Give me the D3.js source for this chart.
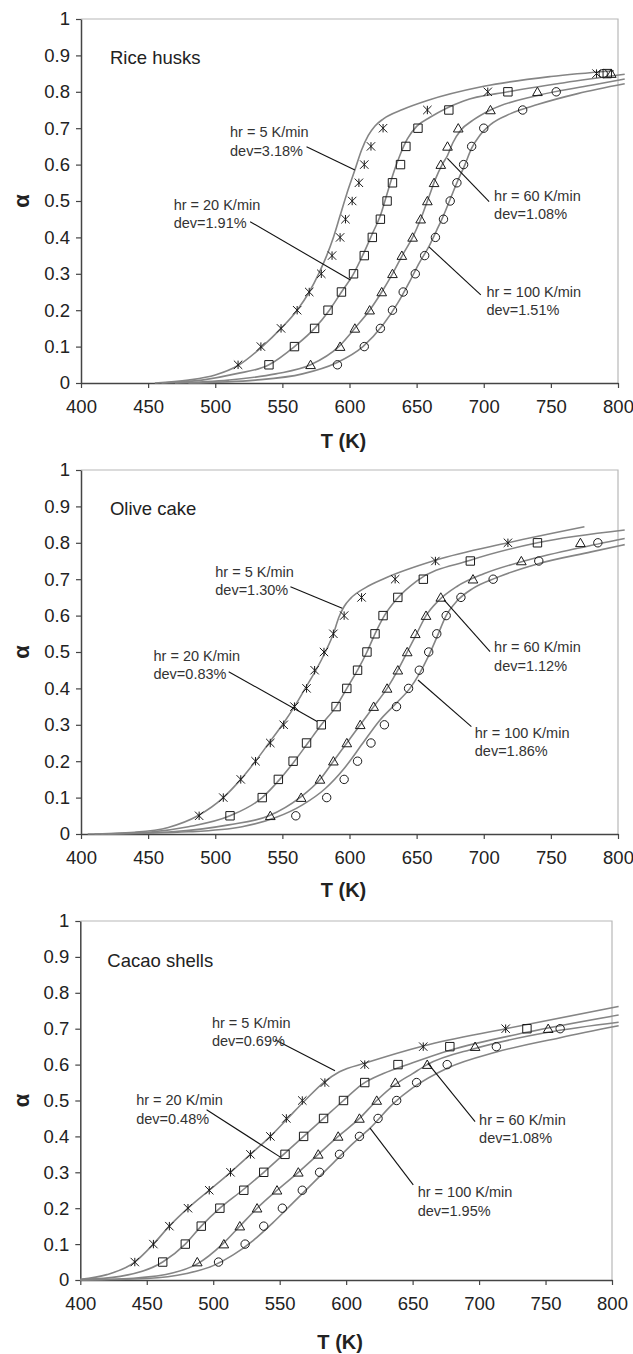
<!DOCTYPE html>
<head>
    <meta charset="utf-8">
    <title>Conversion vs temperature</title>
    <style>
        body { margin: 0; background: #fff; }
        text { font-family: "Liberation Sans", Arial, sans-serif; fill: #222; }
        .tick text { font-size: 18.5px; }
        .note { font-size: 14.5px; fill: #333; }
        .panel_name { font-size: 18.5px; }
        .axis_title { font-size: 20px; font-weight: bold; }
    </style>
    <script type="text/javascript" src="https://cdn.jsdelivr.net/npm/d3@7"></script>
</head>
<body>
    <script>
        // conversion levels at which the experimental points were taken
        var alphaLevels = [0.05, 0.1, 0.15, 0.2, 0.25, 0.3, 0.35, 0.4, 0.45, 0.5, 0.55, 0.6, 0.65, 0.7, 0.75, 0.8, 0.85];
        var xTicks = [400, 450, 500, 550, 600, 650, 700, 750, 800];
        var yTicks = [0, 0.1, 0.2, 0.3, 0.4, 0.5, 0.6, 0.7, 0.8, 0.9, 1];
        var rates = ["5", "20", "60", "100"];
        var shapes = ["star", "square", "triangle", "circle"];

        // Rice husks: experimental T (K) at each alpha level
        var rice5 = [517, 534, 549, 561, 570, 579, 587, 593, 597, 602, 607, 611, 616, 625, 658, 703, 784];
        var rice20 = [540, 559, 574, 584, 594, 603, 611, 617, 623, 628, 632, 638, 642, 651, 674, 718, 792];
        var rice60 = [571, 593, 604, 615, 624, 632, 639, 647, 653, 658, 663, 668, 673, 681, 705, 740, 795];
        var rice100 = [591, 611, 623, 632, 640, 649, 656, 664, 670, 675, 680, 685, 691, 700, 729, 754, 789];
        var riceDev = ["3.18%", "1.91%", "1.08%", "1.51%"];
        // model curves [T, alpha]
        var riceFit5 = [[455, 0], [480, 0.008], [500, 0.022], [517, 0.048], [535, 0.1], [549, 0.15], [561, 0.2], [570, 0.25], [577, 0.3], [583, 0.35], [588, 0.4], [593, 0.46], [598, 0.52], [604, 0.585], [609, 0.64], [614, 0.68], [619, 0.706], [625, 0.725], [640, 0.752], [658, 0.776], [700, 0.815], [750, 0.842], [797, 0.858]];
        var riceFit20 = [[460, 0], [490, 0.008], [515, 0.025], [540, 0.05], [559, 0.1], [574, 0.15], [585, 0.2], [594, 0.25], [603, 0.3], [611, 0.36], [617, 0.41], [623, 0.46], [628, 0.52], [633, 0.58], [638, 0.63], [643, 0.67], [650, 0.705], [660, 0.73], [685, 0.775], [718, 0.8], [760, 0.825], [805, 0.848]];
        var riceFit60 = [[470, 0], [510, 0.008], [545, 0.025], [571, 0.05], [592, 0.1], [605, 0.155], [615, 0.2], [624, 0.25], [632, 0.3], [640, 0.355], [647, 0.4], [653, 0.45], [659, 0.51], [664, 0.56], [669, 0.6], [673, 0.625], [677, 0.66], [683, 0.695], [692, 0.722], [705, 0.75], [740, 0.79], [780, 0.818], [805, 0.835]];
        var riceFit100 = [[480, 0], [530, 0.008], [565, 0.025], [590, 0.055], [610, 0.1], [625, 0.16], [636, 0.22], [645, 0.28], [652, 0.33], [659, 0.374], [665, 0.42], [670, 0.46], [675, 0.505], [680, 0.55], [686, 0.6], [691, 0.645], [697, 0.68], [705, 0.71], [720, 0.74], [740, 0.765], [770, 0.795], [805, 0.822]];

        // Olive cake
        var olive5 = [488, 506, 519, 530, 541, 551, 559, 568, 574, 581, 588, 596, 609, 634, 664, 718];
        var olive20 = [511, 535, 547, 558, 568, 579, 590, 598, 606, 613, 619, 625, 636, 655, 690, 740];
        var olive60 = [541, 564, 578, 588, 598, 608, 618, 628, 636, 643, 649, 657, 668, 692, 728, 772];
        var olive100 = [560, 583, 596, 606, 616, 626, 635, 644, 652, 659, 665, 672, 683, 707, 741, 785];
        var oliveDev = ["1.30%", "0.83%", "1.12%", "1.86%"];
        var oliveFit5 = [[405, 0], [440, 0.005], [465, 0.018], [487, 0.05], [506, 0.1], [519, 0.15], [530, 0.2], [540, 0.25], [550, 0.3], [559, 0.35], [567, 0.4], [575, 0.45], [582, 0.5], [588, 0.55], [592, 0.595], [596, 0.625], [601, 0.648], [612, 0.677], [626, 0.702], [664, 0.752], [718, 0.8], [775, 0.844]];
        var oliveFit20 = [[410, 0], [450, 0.005], [480, 0.02], [511, 0.05], [535, 0.1], [548, 0.15], [559, 0.2], [569, 0.25], [579, 0.3], [590, 0.35], [598, 0.4], [606, 0.45], [613, 0.5], [619, 0.55], [626, 0.6], [635, 0.645], [650, 0.695], [690, 0.752], [740, 0.8], [805, 0.835]];
        var oliveFit60 = [[415, 0], [470, 0.007], [510, 0.025], [540, 0.05], [563, 0.1], [578, 0.15], [588, 0.2], [598, 0.25], [608, 0.3], [618, 0.35], [628, 0.4], [636, 0.45], [643, 0.5], [650, 0.55], [657, 0.6], [666, 0.64], [680, 0.68], [700, 0.715], [730, 0.75], [770, 0.785], [805, 0.812]];
        var oliveFit100 = [[420, 0], [480, 0.006], [520, 0.02], [545, 0.045], [565, 0.08], [582, 0.125], [596, 0.18], [610, 0.25], [622, 0.31], [635, 0.36], [645, 0.4], [652, 0.44], [659, 0.49], [665, 0.54], [672, 0.6], [680, 0.64], [692, 0.675], [710, 0.705], [740, 0.742], [780, 0.775], [805, 0.795]];

        // Cacao shells
        var cacao5 = [441, 455, 467, 481, 497, 513, 528, 543, 555, 567, 584, 614, 658, 720];
        var cacao20 = [462, 479, 491, 505, 523, 538, 554, 568, 583, 598, 614, 639, 678, 736];
        var cacao60 = [488, 508, 520, 533, 548, 564, 579, 594, 610, 623, 637, 661, 697, 752];
        var cacao100 = [504, 524, 538, 552, 567, 580, 595, 610, 624, 638, 653, 676, 713, 761];
        var cacaoDev = ["0.69%", "0.48%", "1.08%", "1.95%"];
        var cacaoFit5 = [[400, 0.002], [420, 0.015], [441, 0.05], [455, 0.1], [467, 0.15], [481, 0.2], [497, 0.25], [513, 0.3], [528, 0.35], [543, 0.4], [556, 0.45], [569, 0.5], [583, 0.55], [595, 0.58], [615, 0.605], [658, 0.652], [720, 0.7], [805, 0.762]];
        var cacaoFit20 = [[400, 0.001], [430, 0.01], [462, 0.05], [479, 0.1], [491, 0.15], [505, 0.2], [522, 0.25], [538, 0.3], [553, 0.35], [568, 0.4], [583, 0.45], [598, 0.5], [612, 0.545], [628, 0.575], [650, 0.605], [678, 0.64], [736, 0.69], [805, 0.738]];
        var cacaoFit60 = [[400, 0], [440, 0.005], [470, 0.02], [488, 0.045], [507, 0.1], [520, 0.15], [533, 0.2], [548, 0.25], [564, 0.3], [579, 0.35], [594, 0.4], [610, 0.45], [623, 0.5], [637, 0.545], [650, 0.575], [661, 0.6], [697, 0.645], [752, 0.69], [805, 0.718]];
        var cacaoFit100 = [[400, 0], [450, 0.004], [480, 0.018], [500, 0.04], [515, 0.07], [530, 0.11], [545, 0.16], [560, 0.215], [575, 0.27], [590, 0.325], [605, 0.38], [618, 0.423], [635, 0.49], [650, 0.535], [676, 0.59], [713, 0.635], [761, 0.675], [805, 0.708]];

        // annotation placement in data units: text at (tx, ta), leader from (x1, a1) to (x2, a2)
        var riceNotes = [
            { tx: 511, ta: 0.689, x1: 568, a1: 0.649, x2: 604, a2: 0.585 },
            { tx: 469, ta: 0.489, x1: 526, a1: 0.443, x2: 600.7, a2: 0.283 },
            { tx: 707.7, ta: 0.514, x1: 704, a1: 0.498, x2: 672.9, a2: 0.617 },
            { tx: 702, ta: 0.251, x1: 697.8, a1: 0.242, x2: 659.2, a2: 0.374 }
        ];
        var oliveNotes = [
            { tx: 500, ta: 0.721, x1: 556, a1: 0.679, x2: 594.6, a2: 0.62 },
            { tx: 454, ta: 0.489, x1: 510, a1: 0.446, x2: 575.9, a2: 0.309 },
            { tx: 707.7, ta: 0.513, x1: 704.7, a1: 0.501, x2: 670.4, a2: 0.643 },
            { tx: 693.3, ta: 0.279, x1: 690.8, a1: 0.295, x2: 651, a2: 0.423 }
        ];
        var cacaoNotes = [
            { tx: 499, ta: 0.716, x1: 546.5, a1: 0.669, x2: 591.6, a2: 0.583 },
            { tx: 442, ta: 0.501, x1: 495, a1: 0.474, x2: 550.2, a2: 0.343 },
            { tx: 700, ta: 0.446, x1: 697, a1: 0.441, x2: 661.4, a2: 0.604 },
            { tx: 653.8, ta: 0.244, x1: 650.5, a1: 0.265, x2: 618, a2: 0.423 }
        ];

        var panels = [
            { name: "Rice husks", left: 81, top: 19, width: 537, height: 364, titleGap: 58,
              points: [rice5, rice20, rice60, rice100], fits: [riceFit5, riceFit20, riceFit60, riceFit100],
              devs: riceDev, notes: riceNotes, nameT: 421.6, nameA: 0.895 },
            { name: "Olive cake", left: 81, top: 470, width: 537, height: 364, titleGap: 56,
              points: [olive5, olive20, olive60, olive100], fits: [oliveFit5, oliveFit20, oliveFit60, oliveFit100],
              devs: oliveDev, notes: oliveNotes, nameT: 421.6, nameA: 0.895 },
            { name: "Cacao shells", left: 80.3, top: 921, width: 531.7, height: 359, titleGap: 62,
              points: [cacao5, cacao20, cacao60, cacao100], fits: [cacaoFit5, cacaoFit20, cacaoFit60, cacaoFit100],
              devs: cacaoDev, notes: cacaoNotes, nameT: 420.3, nameA: 0.891 }
        ];

        var svg = d3.select("body")
            .append("svg")
            .attr("width", 633)
            .attr("height", 1354);

        function markerPath(shape) {
            var s = 4.2;
            if (shape == "star") {
                return "M" + (-s) + "," + (-s) + "L" + s + "," + s + "M" + (-s) + "," + s + "L" + s + "," + (-s) + "M0," + (-s) + "L0," + s;
            }
            if (shape == "square") {
                return "M" + (-s) + "," + (-s) + "h" + (2 * s) + "v" + (2 * s) + "h" + (-2 * s) + "Z";
            }
            if (shape == "triangle") {
                return "M0," + (-s * 1.1) + "L" + (s * 1.15) + "," + (s * 0.9) + "L" + (-s * 1.15) + "," + (s * 0.9) + "Z";
            }
            return "M" + s + ",0A" + s + "," + s + " 0 1,1 " + (-s) + ",0A" + s + "," + s + " 0 1,1 " + s + ",0";
        }

        panels.forEach(function (p) {
            var x = d3.scaleLinear().domain([400, 800]).range([0, p.width]);
            var y = d3.scaleLinear().domain([0, 1]).range([p.height, 0]);

            var g = svg.append("g")
                .attr("transform", "translate(" + p.left + "," + p.top + ")");

            // light frame top and right
            g.append("path")
                .attr("d", "M0,0H" + p.width + "V" + p.height)
                .attr("fill", "none")
                .attr("stroke", "#b8b8b8")
                .attr("stroke-width", 1.2);

            var xAxis = g.append("g")
                .attr("transform", "translate(0," + p.height + ")")
                .call(d3.axisBottom(x).tickValues(xTicks).tickSize(5).tickSizeOuter(0).tickPadding(12));
            var yAxis = g.append("g")
                .call(d3.axisLeft(y).tickValues(yTicks).tickSize(5).tickSizeOuter(0).tickPadding(6)
                    .tickFormat(d3.format("~g")));
            [xAxis, yAxis].forEach(function (a) {
                a.select(".domain").attr("stroke", "#444").attr("stroke-width", 1.5);
                a.selectAll(".tick line").attr("stroke", "#444").attr("stroke-width", 1.2);
                a.selectAll(".tick text").attr("fill", "#222");
            });

            // model curves
            var line = d3.line()
                .x(function (d) { return x(d[0]); })
                .y(function (d) { return y(d[1]); })
                .curve(d3.curveMonotoneX);
            g.append("g").selectAll("path")
                .data(p.fits)
                .enter()
                .append("path")
                .attr("d", line)
                .attr("fill", "none")
                .attr("stroke", "#858585")
                .attr("stroke-width", 1.6);

            // experimental points
            p.points.forEach(function (temps, i) {
                g.append("g").selectAll("path")
                    .data(temps)
                    .enter()
                    .append("path")
                    .attr("transform", function (t, j) { return "translate(" + x(t) + "," + y(alphaLevels[j]) + ")"; })
                    .attr("d", markerPath(shapes[i]))
                    .attr("fill", "none")
                    .attr("stroke", "#1a1a1a")
                    .attr("stroke-width", 1);
            });

            // annotations
            p.notes.forEach(function (n, i) {
                g.append("line")
                    .attr("x1", x(n.x1)).attr("y1", y(n.a1))
                    .attr("x2", x(n.x2)).attr("y2", y(n.a2))
                    .attr("stroke", "#111")
                    .attr("stroke-width", 1.1);
                var t = g.append("text")
                    .attr("class", "note")
                    .attr("x", x(n.tx))
                    .attr("y", y(n.ta))
                    .attr("dy", "0.35em");
                t.append("tspan").attr("x", x(n.tx)).text("hr = " + rates[i] + " K/min");
                t.append("tspan").attr("x", x(n.tx)).attr("dy", 18.3).text("dev=" + p.devs[i]);
            });

            g.append("text")
                .attr("class", "panel_name")
                .attr("x", x(p.nameT))
                .attr("y", y(p.nameA))
                .attr("dy", "0.35em")
                .text(p.name);

            g.append("text")
                .attr("class", "axis_title")
                .attr("x", p.width / 2 - 6)
                .attr("y", p.height + p.titleGap)
                .attr("dy", "0.35em")
                .style("text-anchor", "middle")
                .text("T (K)");

            g.append("text")
                .attr("class", "axis_title")
                .attr("transform", "translate(" + (21 - p.left) + "," + (p.height / 2) + ") rotate(-90)")
                .attr("dy", "0.35em")
                .style("text-anchor", "middle")
                .style("font-size", "22px")
                .text("α");
        });
    </script>
</body>
